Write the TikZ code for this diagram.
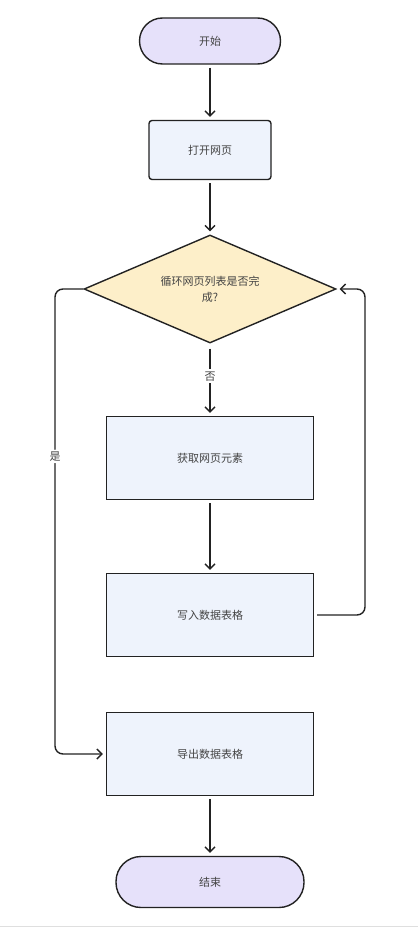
\documentclass[tikz,border=0pt]{standalone}
\usepackage{fontspec}
\setmainfont{Noto Sans CJK SC}
\usepackage{tikz}
\usetikzlibrary{shapes.geometric, arrows.meta}

\definecolor{termfill}{HTML}{E6E1FA}
\definecolor{boxfill}{HTML}{EEF3FC}
\definecolor{decfill}{HTML}{FDEFC9}
\definecolor{ink}{HTML}{222222}

\begin{document}
\begin{tikzpicture}[x=1pt, y=-1pt, line width=1.4pt, draw=ink,
        font=\fontsize{11}{16}\selectfont, text=ink!85,
        terminal/.style={draw=ink, fill=termfill, rectangle, inner sep=0pt},
        procbox/.style={draw=ink, fill=boxfill, rectangle, inner sep=0pt, minimum width=207pt, minimum height=83pt},
        decision/.style={draw=ink, fill=decfill, diamond, aspect=2.33, inner sep=0pt, minimum width=252pt, minimum height=108pt, align=center},
        flow/.style={draw=ink, -{Straight Barb[length=5pt, width=10pt]}, shorten <=3pt, shorten >=3pt}]
        \useasboundingbox (0,0) rectangle (418,928);
        \fill[white] (0,0) rectangle (418,928);
        \draw[gray!25, line width=0.8pt] (0,926) -- (418,926);

        \node[terminal, rounded corners=23pt, minimum width=141pt, minimum height=46pt] (start) at (210,41) {开始};
        \node[draw=ink, fill=boxfill, rounded corners=3pt, minimum width=122pt, minimum height=59pt] (openpage) at (210,150) {打开网页};
        \node[decision] (loop) at (210,289) {循环网页列表是否完\\成?};
        \node[procbox] (fetch) at (210,458) {获取网页元素};
        \node[procbox] (write) at (210,615) {写入数据表格};
        \node[procbox] (export) at (210,754) {导出数据表格};
        \node[terminal, rounded corners=25pt, minimum width=188pt, minimum height=51pt] (stop) at (210,882) {结束};

        \coordinate (yesturn) at (55,289);
        \coordinate (backturn) at (365,615);

        \draw[flow] (start) -- (openpage);
        \draw[flow] (openpage) -- (loop);
        \draw[flow, shorten <=5pt] (loop) -- node[pos=0.45, fill=white, inner sep=2pt] {否} (fetch);
        \draw[flow] (fetch) -- (write);
        \draw[flow, rounded corners=8pt] (write.east) -- (backturn) |- (loop.east);
        \draw[flow, shorten <=0pt, rounded corners=8pt] (loop.west) -- (yesturn) |- node[pos=0.18, fill=white, inner sep=2pt] {是} (export.west);
        \draw[flow] (export) -- (stop);
    \end{tikzpicture}
\end{document}
